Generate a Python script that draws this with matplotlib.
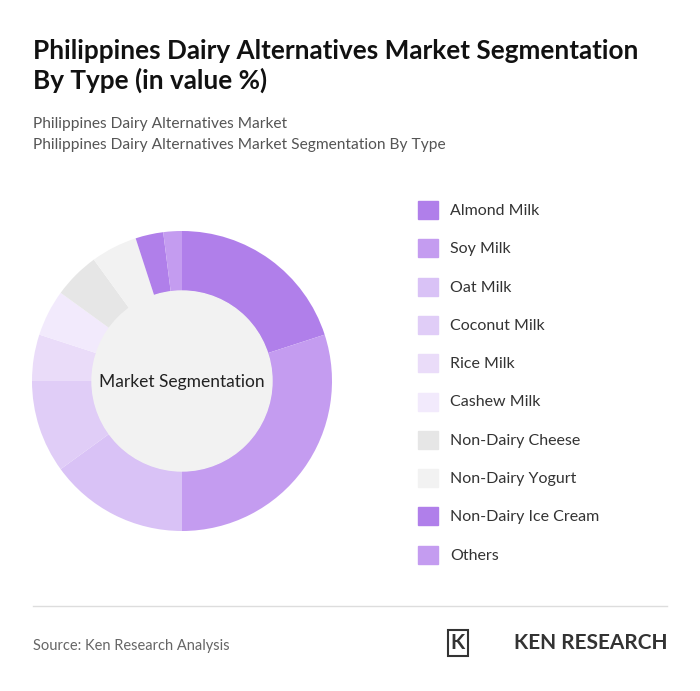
import matplotlib.pyplot as plt
from matplotlib.patches import Rectangle, Circle

plt.rcParams['font.family'] = ['Lato', 'DejaVu Sans']

labels = ["Almond Milk", "Soy Milk", "Oat Milk", "Coconut Milk", "Rice Milk",
          "Cashew Milk", "Non-Dairy Cheese", "Non-Dairy Yogurt",
          "Non-Dairy Ice Cream", "Others"]
values = [20, 30, 15, 10, 5, 5, 5, 5, 3, 2]
colors = ["#b07fea", "#c49cf0", "#d9c2f6", "#e0cdf7", "#eadcf9",
          "#f2eafc", "#e6e6e6", "#f2f2f2", "#b07fea", "#c49cf0"]

W, H = 700, 691
fig = plt.figure(figsize=(W / 100, H / 100), dpi=100)
fig.patch.set_facecolor("white")

def fx(x): return x / W
def fy(y): return 1 - y / H

# donut
cx, cy, r = 182, 381, 150
ax = fig.add_axes([fx(cx - r), fy(cy + r), 2 * r / W, 2 * r / H])
ax.pie(values, colors=colors, startangle=90, counterclock=False,
       wedgeprops=dict(width=0.4, edgecolor="none"))
ax.add_patch(Circle((0, 0), 0.6, color="#f2f2f2", zorder=5))
ax.text(0, -0.01, "Market Segmentation", ha="center", va="center",
        fontsize=12.5, color="#222222", zorder=6)
ax.set_xlim(-1, 1); ax.set_ylim(-1, 1); ax.set_aspect("equal")
ax.axis("off")

# titles
fig.text(fx(33), fy(51), "Philippines Dairy Alternatives Market Segmentation",
         fontsize=18.8, fontweight="bold", color="#111111", va="center")
fig.text(fx(33), fy(80), "By Type (in value %)",
         fontsize=18.8, fontweight="bold", color="#111111", va="center")
fig.text(fx(33), fy(124), "Philippines Dairy Alternatives Market",
         fontsize=11.2, color="#555555", va="center")
fig.text(fx(33), fy(145), "Philippines Dairy Alternatives Market Segmentation By Type",
         fontsize=11.2, color="#555555", va="center")

# legend
for i, (lab, c) in enumerate(zip(labels, colors)):
    y = 210 + i * 38.3
    fig.patches.append(Rectangle((fx(418), fy(y + 9)), 20 / W, 18 / H,
                                 transform=fig.transFigure, color=c))
    fig.text(fx(450), fy(y + 1), lab, fontsize=11.5, color="#333333", va="center")

# footer
fig.add_artist(plt.Line2D([fx(33), fx(667)], [fy(606), fy(606)],
                          color="#dddddd", lw=1))
fig.text(fx(33), fy(646), "Source: Ken Research Analysis", fontsize=10.5,
         color="#666666", va="center")
fig.text(fx(667), fy(643), "KEN RESEARCH", fontsize=15, fontweight="bold",
         color="#333333", ha="right", va="center")
fig.text(fx(458), fy(643), "K", fontsize=15, fontweight="bold",
         color="#333333", ha="center", va="center",
         bbox=dict(boxstyle="square,pad=0.15", fc="white", ec="#333333", lw=1.5))

fig.savefig("out.png", dpi=100)
